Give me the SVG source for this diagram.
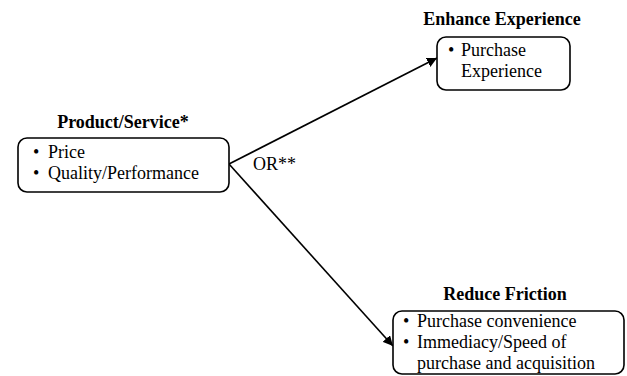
<svg xmlns="http://www.w3.org/2000/svg" width="627" height="376" viewBox="0 0 627 376">
<style>
text{font-family:"Liberation Serif","Times New Roman",serif;font-size:18px;fill:#000}
.t{font-weight:bold;text-anchor:middle}
.box{fill:#fff;stroke:#000;stroke-width:1.6}
.c{stroke:#000;stroke-width:1.6;fill:none}
</style>
<defs>
<marker id="ah" viewBox="0 0 10 10" refX="10" refY="5" markerWidth="10" markerHeight="10" markerUnits="userSpaceOnUse" orient="auto">
<path d="M0,0 L10,5 L0,10 Z" fill="#000"/>
</marker>
</defs>
<rect width="627" height="376" fill="#fff"/>
<g id="connectors">
<line class="c" x1="229" y1="164" x2="437" y2="58" marker-end="url(#ah)"/>
<line class="c" x1="229" y1="164" x2="393" y2="346" marker-end="url(#ah)"/>
<text x="253" y="170">OR**</text>
</g>
<g id="product">
<text class="t" x="123" y="128">Product/Service*</text>
<rect class="box" x="18" y="138" width="211" height="54" rx="9"/>
<text x="33" y="158">•</text><text x="48" y="158">Price</text>
<text x="33" y="179">•</text><text x="48" y="179">Quality/Performance</text>
</g>
<g id="enhance">
<text class="t" x="502" y="25">Enhance Experience</text>
<rect class="box" x="437" y="37" width="133" height="53" rx="9"/>
<text x="448" y="56">•</text><text x="461" y="56">Purchase</text>
<text x="461" y="77">Experience</text>
</g>
<g id="reduce">
<text class="t" x="505" y="300">Reduce Friction</text>
<rect class="box" x="393" y="311" width="231" height="63" rx="9"/>
<text x="403" y="327">•</text><text x="417" y="327">Purchase convenience</text>
<text x="403" y="348">•</text><text x="417" y="348">Immediacy/Speed of</text>
<text x="417" y="369">purchase and acquisition</text>
</g>
</svg>
